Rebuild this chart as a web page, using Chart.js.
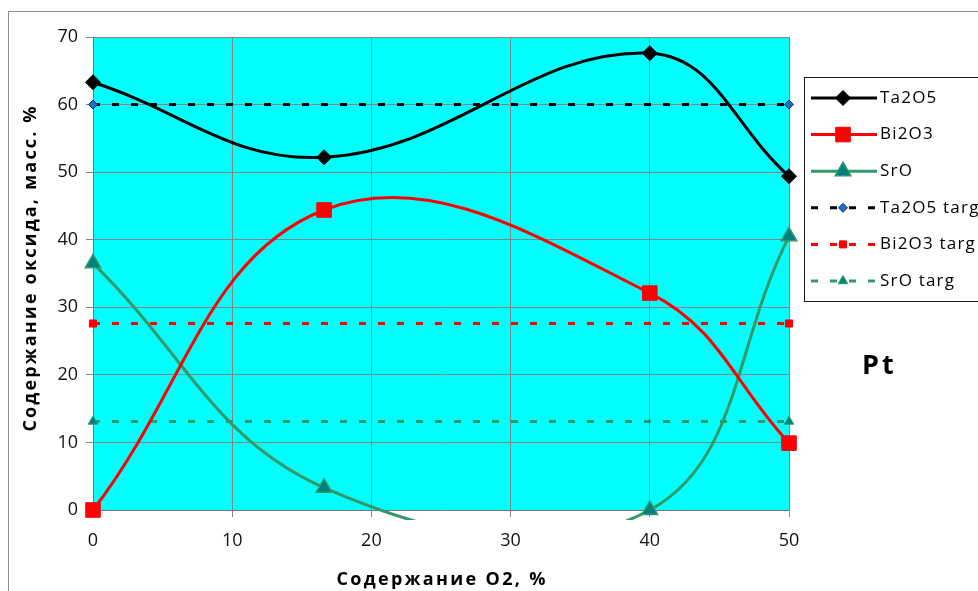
<!DOCTYPE html>
<html>
<head>
<meta charset="utf-8">
<script src="https://cdn.jsdelivr.net/npm/chart.js@4.4.0/dist/chart.umd.min.js"></script>
<style>
  html, body { margin: 0; padding: 0; background: #ffffff; }
  #wrap { width: 978px; height: 591px; position: relative; overflow: hidden; }
  canvas { display: block; }
</style>
</head>
<body>
<div id="wrap"><canvas id="chart" width="978" height="591"></canvas></div>
<script>
// O2 content in the gas mixture, %
const o2Content = [0, 16.6, 40, 50];

// Measured oxide content of the film, mass %
const ta2o5 = [63.3, 52.2, 67.6, 49.4];
const bi2o3 = [0, 44.4, 32.1, 9.9];
const sro = [36.5, 3.3, 0, 40.5];

// Oxide content of the target (constant over the O2 range)
const targetX = [0, 50];
const ta2o5Target = [60, 60];
const bi2o3Target = [27.6, 27.6];
const sroTarget = [13.1, 13.1];

const xTicks = [0, 10, 20, 30, 40, 50];
const yTicks = [0, 10, 20, 30, 40, 50, 60, 70];

const seriesNames = ['Ta2O5', 'Bi2O3', 'SrO', 'Ta2O5 targ', 'Bi2O3 targ', 'SrO targ'];

const xTitle = 'Содержание O2, %';
const yTitle = 'Содержание оксида, масс. %';
const substrateLabel = 'Pt';

function points(xs, ys) {
  return xs.map((x, i) => ({ x: x, y: ys[i] }));
}

const FONT = "'Open Sans', 'DejaVu Sans', sans-serif";
const GREEN = '#339966';
const TEAL = '#008080';

const curveClip = { left: 14, right: 14, top: 14, bottom: 10 };

const datasets = [
  {
    label: seriesNames[0], data: points(o2Content, ta2o5),
    borderColor: '#000000', borderWidth: 3, tension: 0.4,
    pointStyle: 'rectRot', pointRadius: 7.5, pointBackgroundColor: '#000000',
    pointBorderColor: '#000000', pointBorderWidth: 1, clip: curveClip
  },
  {
    label: seriesNames[1], data: points(o2Content, bi2o3),
    borderColor: '#ff0000', borderWidth: 3, tension: 0.4,
    pointStyle: 'rect', pointRadius: 10.3, pointBackgroundColor: '#ff0000',
    pointBorderColor: '#ff0000', pointBorderWidth: 1, clip: curveClip
  },
  {
    label: seriesNames[2], data: points(o2Content, sro),
    borderColor: GREEN, borderWidth: 3, tension: 0.4,
    pointStyle: 'triangle', pointRadius: 9, pointBackgroundColor: TEAL,
    pointBorderColor: GREEN, pointBorderWidth: 1.5, clip: curveClip
  },
  {
    label: seriesNames[3], data: points(targetX, ta2o5Target),
    borderColor: '#000000', borderWidth: 3, borderDash: [7, 12], tension: 0,
    pointStyle: 'rectRot', pointRadius: 4.5, pointBackgroundColor: '#1f6fc9',
    pointBorderColor: '#0a2f5c', pointBorderWidth: 1, clip: curveClip
  },
  {
    label: seriesNames[4], data: points(targetX, bi2o3Target),
    borderColor: '#ff0000', borderWidth: 3, borderDash: [7, 12], tension: 0,
    pointStyle: 'rect', pointRadius: 5, pointBackgroundColor: '#ff0000',
    pointBorderColor: '#ff0000', pointBorderWidth: 1, clip: curveClip
  },
  {
    label: seriesNames[5], data: points(targetX, sroTarget),
    borderColor: GREEN, borderWidth: 3, borderDash: [7, 12], tension: 0,
    pointStyle: 'triangle', pointRadius: 5.5, pointBackgroundColor: TEAL,
    pointBorderColor: GREEN, pointBorderWidth: 1, clip: curveClip
  }
];

// Draws text with letter spacing chosen so the string spans the given width
function spacedText(ctx, text, x, y, width) {
  ctx.letterSpacing = '0px';
  const natural = ctx.measureText(text).width;
  const gap = Math.max(0, (width - natural) / (text.length - 1));
  ctx.letterSpacing = gap.toFixed(2) + 'px';
  ctx.fillText(text, x + gap / 2, y);
  ctx.letterSpacing = '0px';
}

// Cyan plot background and the outer frame of the chart object
const backgroundPlugin = {
  id: 'plotBackground',
  beforeDraw(chart) {
    const { ctx, chartArea: a } = chart;
    ctx.save();
    ctx.fillStyle = '#00ffff';
    ctx.fillRect(a.left, a.top, a.right - a.left, a.bottom - a.top);
    ctx.strokeStyle = '#8c8c8c';
    ctx.lineWidth = 1;
    ctx.strokeRect(8.5, 11.5, 1200, 800);
    ctx.restore();
  }
};

// Axis titles, framed legend and the substrate label
const annotationPlugin = {
  id: 'annotations',
  afterDraw(chart) {
    const { ctx, chartArea: a } = chart;
    ctx.save();
    ctx.fillStyle = '#000000';

    // axis titles
    ctx.font = 'bold 18px ' + FONT;
    ctx.textAlign = 'center';
    ctx.textBaseline = 'middle';
    spacedText(ctx, xTitle, (a.left + a.right) / 2, 580, 209);
    ctx.save();
    ctx.translate(31, 269);
    ctx.rotate(-Math.PI / 2);
    spacedText(ctx, yTitle, 0, 0, 325);
    ctx.restore();

    // legend frame
    ctx.strokeStyle = '#1a1a1a';
    ctx.lineWidth = 1;
    ctx.strokeRect(804.5, 77.5, 400, 224);

    chart.data.datasets.forEach((ds, i) => {
      const y = 98 + i * 36.6;
      ctx.save();
      ctx.strokeStyle = ds.borderColor;
      ctx.lineWidth = ds.borderWidth;
      ctx.setLineDash(ds.borderDash || []);
      ctx.beginPath();
      ctx.moveTo(811, y);
      ctx.lineTo(877, y);
      ctx.stroke();
      ctx.setLineDash([]);
      ctx.fillStyle = ds.pointBackgroundColor;
      ctx.strokeStyle = ds.pointBorderColor;
      ctx.lineWidth = ds.pointBorderWidth;
      Chart.helpers.drawPoint(ctx, {
        pointStyle: ds.pointStyle,
        radius: ds.pointRadius,
        rotation: 0,
        borderWidth: ds.pointBorderWidth
      }, 843, y);
      ctx.restore();

      ctx.font = '17px ' + FONT;
      ctx.letterSpacing = '1.2px';
      ctx.textAlign = 'left';
      ctx.textBaseline = 'middle';
      ctx.fillStyle = '#000000';
      ctx.fillText(ds.label, 880, y);
      ctx.letterSpacing = '0px';
    });

    // substrate label
    ctx.font = 'bold 27px ' + FONT;
    ctx.letterSpacing = '3px';
    ctx.textAlign = 'left';
    ctx.textBaseline = 'alphabetic';
    ctx.fillText(substrateLabel, 862, 374);
    ctx.letterSpacing = '0px';
    ctx.restore();
  }
};

const tickFont = { family: FONT, size: 18 };

new Chart(document.getElementById('chart'), {
  type: 'line',
  data: { datasets: datasets },
  options: {
    responsive: false,
    animation: false,
    devicePixelRatio: 1,
    layout: { padding: { left: 0, top: 37, right: 189, bottom: 0 } },
    elements: { line: { capBezierPoints: false } },
    plugins: { legend: { display: false }, tooltip: { enabled: false } },
    scales: {
      x: {
        type: 'linear', min: 0, max: 50,
        afterBuildTicks(scale) { scale.ticks = xTicks.map(v => ({ value: v })); },
        afterFit(scale) { scale.height = 81; },
        ticks: { font: tickFont, color: '#111111', padding: 13, maxRotation: 0 },
        grid: { color: '#858585', lineWidth: 1, tickLength: 7, tickColor: '#858585' },
        border: { color: '#777777', width: 1 }
      },
      y: {
        type: 'linear', min: 0, max: 70,
        afterBuildTicks(scale) { scale.ticks = yTicks.map(v => ({ value: v })); },
        afterFit(scale) { scale.width = 93; },
        ticks: { font: tickFont, color: '#111111', padding: 8 },
        grid: { color: '#858585', lineWidth: 1, tickLength: 7, tickColor: '#858585' },
        border: { color: '#777777', width: 1 }
      }
    }
  },
  plugins: [backgroundPlugin, annotationPlugin]
});
</script>
</body>
</html>
